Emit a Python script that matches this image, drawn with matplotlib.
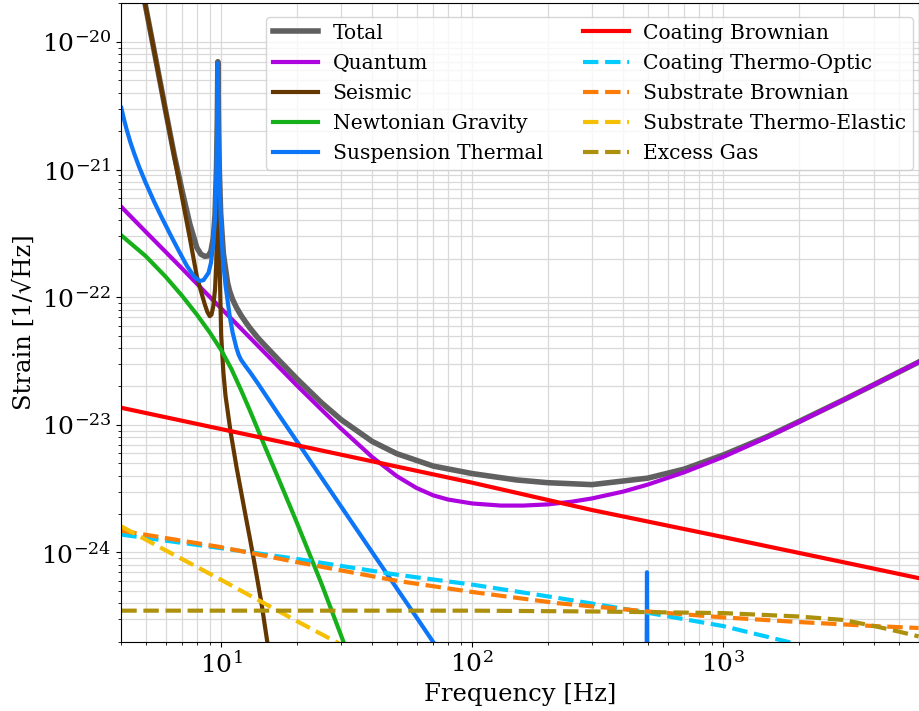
import matplotlib
matplotlib.use('Agg')
import matplotlib.pyplot as plt

plt.rcParams['font.family'] = ['DejaVu Serif']
plt.rcParams['mathtext.fontset'] = 'dejavuserif'

# noise budget, frequency [Hz] / strain [1/rtHz]
total_f = [4.5, 4.95, 5.5, 6.0, 6.5, 7.0, 7.5, 8.0, 8.3, 8.6, 8.9, 9.1, 9.3, 9.45, 9.58,
           9.65, 9.7, 9.75, 9.82, 9.95, 10.2, 10.6, 10.8, 11.1, 11.5, 12, 12.5, 13, 14, 15,
           17, 20, 25, 30, 40, 50, 70, 100, 150, 200, 300, 500, 700, 1000, 1500, 2000,
           3000, 4000, 6000]
total_h = [5.6e-20, 2.1e-20, 7.15e-21, 2.92e-21, 1.3e-21, 6.7e-22, 3.74e-22, 2.44e-22,
           2.17e-22, 2.09e-22, 2.11e-22, 2.3e-22, 2.9e-22, 4.4e-22, 1.05e-21, 2.5e-21,
           7.0e-21, 2.5e-21, 1.05e-21, 4.6e-22, 2.2e-22, 1.3e-22, 1.12e-22, 9.6e-23, 8.3e-23,
           7.2e-23, 6.4e-23, 5.75e-23, 4.8e-23, 4.15e-23, 3.2e-23, 2.3e-23, 1.5e-23, 1.1e-23,
           7.4e-24, 5.95e-24, 4.75e-24, 4.15e-24, 3.7e-24, 3.52e-24, 3.4e-24, 3.82e-24,
           4.5e-24, 5.8e-24, 8.1e-24, 1.06e-23, 1.56e-23, 2.07e-23, 3.1e-23]

quant_f = [4, 5, 6, 7, 8, 10, 12, 15, 20, 25, 30, 40, 50, 60, 70, 80, 100, 130, 160, 200,
           250, 300, 400, 500, 700, 1000, 1500, 2000, 3000, 4000, 6000]
quant_h = [5.1e-22, 3.26e-22, 2.27e-22, 1.67e-22, 1.275e-22, 8.16e-23, 5.67e-23, 3.63e-23,
           2.04e-23, 1.325e-23, 9.35e-24, 5.58e-24, 3.97e-24, 3.2e-24, 2.8e-24, 2.6e-24,
           2.42e-24, 2.33e-24, 2.33e-24, 2.38e-24, 2.5e-24, 2.65e-24, 3.0e-24, 3.4e-24,
           4.25e-24, 5.6e-24, 8.0e-24, 1.05e-23, 1.56e-23, 2.07e-23, 3.1e-23]

seis_f = [4.5, 4.95, 5.5, 6.0, 6.5, 7.0, 7.5, 8.0, 8.3, 8.6, 8.8, 9.0, 9.15, 9.3, 9.45,
          9.55, 9.62, 9.7, 9.8, 9.9, 10.0, 10.2, 10.4, 10.9, 11.5, 12, 12.5, 13, 13.5, 14,
          14.5, 15.2, 16]
seis_h = [5.6e-20, 2.1e-20, 7.1e-21, 2.9e-21, 1.27e-21, 5.9e-22, 2.9e-22, 1.45e-22,
          1.12e-22, 8.8e-23, 7.7e-23, 7.1e-23, 7.3e-23, 8.5e-23, 1.15e-22, 1.8e-22, 3.5e-22,
          8e-22, 3e-22, 1.2e-22, 5e-23, 2.6e-23, 1.7e-23, 8.8e-24, 4.7e-24, 3.0e-24, 1.95e-24,
          1.3e-24, 8.7e-25, 5.8e-25, 3.9e-25, 2.1e-25, 1.1e-25]

newt_f = [4, 5, 6, 7, 8, 9, 10, 11, 12, 13, 15, 17, 20, 25, 30, 35]
newt_h = [3.05e-22, 2.1e-22, 1.45e-22, 1.02e-22, 7.3e-23, 5.3e-23, 3.85e-23, 2.72e-23,
          1.87e-23, 1.3e-23, 6.6e-24, 3.7e-24, 1.72e-24, 5.8e-25, 2.25e-25, 1e-25]

susp_f = [4.0, 4.1, 4.2, 4.35, 4.5, 4.7, 5.0, 5.4, 5.8, 6.3, 6.8, 7.3, 7.8, 8.2, 8.5, 8.9,
          9.1, 9.3, 9.45, 9.58, 9.65, 9.7, 9.75, 9.82, 9.95, 10.15, 10.4, 10.8, 11.1, 11.5,
          11.75, 12, 12.5, 13, 14, 17, 20, 25, 30, 40, 50, 60, 70, 80, 150, 300, 490, 497,
          504, 700]
susp_h = [3.04e-21, 2.47e-21, 2.06e-21, 1.63e-21, 1.34e-21, 1.06e-21, 7.89e-22, 5.62e-22,
          4.2e-22, 3.04e-22, 2.28e-22, 1.76e-22, 1.45e-22, 1.34e-22, 1.36e-22, 1.55e-22,
          1.85e-22, 2.6e-22, 4.2e-22, 1.0e-21, 2.4e-21, 6.8e-21, 2.4e-21, 1.0e-21, 4.2e-22,
          2.0e-22, 1.25e-22, 7.2e-23, 5.3e-23, 4.0e-23, 3.52e-23, 3.23e-23, 2.88e-23,
          2.6e-23, 2.11e-23, 1.19e-23, 7.45e-24, 3.9e-24, 2.3e-24, 1.0e-24, 5.25e-25,
          3.1e-25, 1.98e-25, 1.34e-25, 2.2e-26, 3e-27, 8e-28, 7e-25, 8e-28, 3e-28]

cbrown_f = [4, 10, 30, 100, 300, 1000, 3000, 6000]
cbrown_h = [1.36e-23, 9.26e-24, 5.84e-24, 3.52e-24, 2.15e-24, 1.32e-24, 8.4e-25, 6.3e-25]

cto_f = [4, 10, 20, 50, 100, 220, 500, 1000, 1800, 3000, 6000]
cto_h = [1.38e-24, 1.08e-24, 8.9e-25, 6.7e-25, 5.6e-25, 4.4e-25, 3.37e-25, 2.65e-25,
         2.0e-25, 1.5e-25, 1.0e-25]

sbrown_f = [4, 10, 20, 50, 100, 220, 500, 1000, 2000, 4000, 6000]
sbrown_h = [1.48e-24, 1.1e-24, 8.4e-25, 6.0e-25, 4.9e-25, 4.0e-25, 3.45e-25, 3.1e-25,
            2.85e-25, 2.65e-25, 2.56e-25]

ste_f = [4, 6, 10, 15, 20, 30, 40]
ste_h = [1.6e-24, 1.04e-24, 6.1e-25, 3.95e-25, 2.9e-25, 1.9e-25, 1.4e-25]

gas_f = [4, 100, 300, 1000, 2000, 3000, 4000, 5000, 6000]
gas_h = [3.5e-25, 3.5e-25, 3.45e-25, 3.35e-25, 3.15e-25, 2.96e-25, 2.65e-25, 2.4e-25, 2.2e-25]

fig = plt.figure(figsize=(9.19, 7.11), dpi=100)
ax = fig.add_axes([0.132, 0.0975, 0.8675, 0.8976])

ax.loglog(total_f, total_h, color='#606060', lw=4, label='Total')
ax.loglog(quant_f, quant_h, color='#ad03de', lw=3, label='Quantum')
ax.loglog(seis_f, seis_h, color='#653700', lw=3, label='Seismic')
ax.loglog(newt_f, newt_h, color='#15b01a', lw=3, label='Newtonian Gravity')
ax.loglog(susp_f, susp_h, color='#0d75f8', lw=3, label='Suspension Thermal')
ax.loglog(cbrown_f, cbrown_h, color='#fe0002', lw=3, label='Coating Brownian')
ax.loglog(cto_f, cto_h, color='#02ccfe', lw=3, ls='--', label='Coating Thermo-Optic')
ax.loglog(sbrown_f, sbrown_h, color='#fb7d07', lw=3, ls='--', label='Substrate Brownian')
ax.loglog(ste_f, ste_h, color='#f5bf03', lw=3, ls='--', label='Substrate Thermo-Elastic')
ax.loglog(gas_f, gas_h, color='#ad900d', lw=3, ls='--', label='Excess Gas')

ax.set_xlim(4, 6000)
ax.set_ylim(2e-25, 2e-20)
ax.grid(True, which='both', color='0.85', lw=0.9)
ax.tick_params(labelsize=18)
ax.set_xlabel('Frequency [Hz]', fontsize=17.5)
ax.set_ylabel('Strain [1/\u221aHz]', fontsize=17.5)

ax.legend(ncol=2, loc='upper right', fontsize=14.6, handlelength=2.25,
          borderpad=0.33, handletextpad=0.7, labelspacing=0.55, borderaxespad=0,
          bbox_to_anchor=(0.993, 0.979))

fig.savefig('out.png', dpi=100)
